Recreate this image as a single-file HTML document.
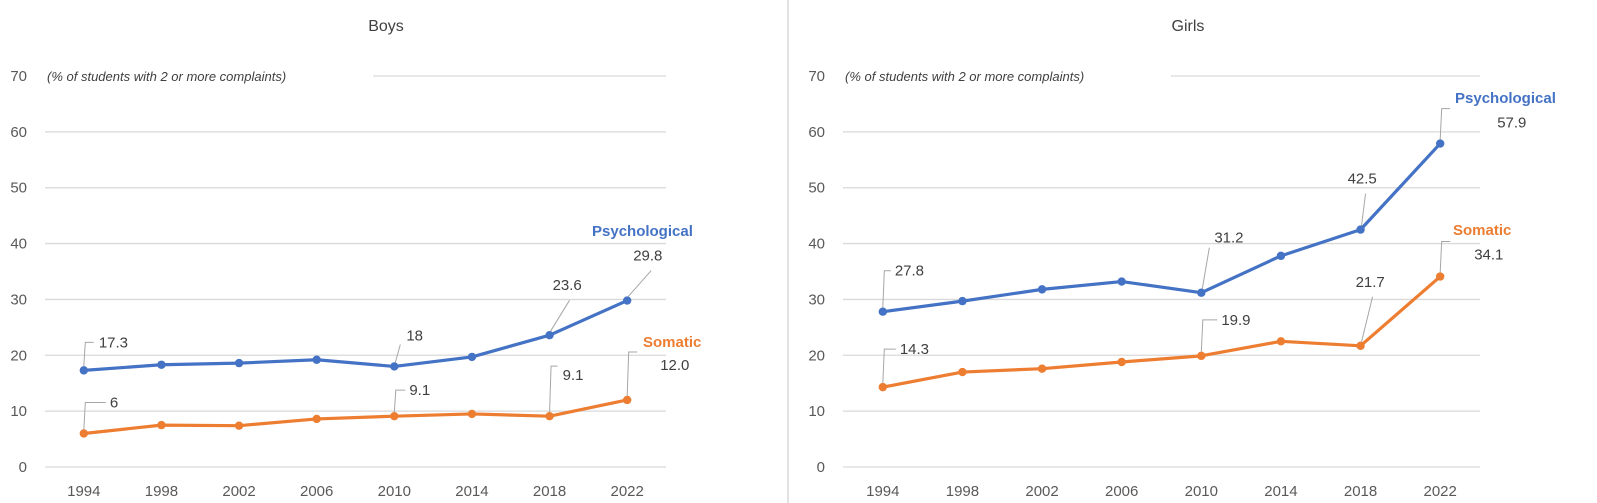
<!DOCTYPE html>
<html><head><meta charset="utf-8">
<style>
html,body{margin:0;padding:0;background:#fff;}
svg{display:block;font-family:"Liberation Sans",sans-serif;}
</style></head>
<body>
<svg id="chart" width="1597" height="503" viewBox="0 0 1597 503" xmlns="http://www.w3.org/2000/svg">
<line x1="788" y1="0" x2="788" y2="503" stroke="#d9d9d9" stroke-width="1.5"/>
</svg>
<script>
const years = ["1994","1998","2002","2006","2010","2014","2018","2022"];
const yTicks = [0,10,20,30,40,50,60,70];
const boysPsych = [17.3,18.3,18.6,19.2,18,19.7,23.6,29.8];
const boysSom = [6,7.5,7.4,8.6,9.1,9.5,9.1,12.0];
const girlsPsych = [27.8,29.7,31.8,33.2,31.2,37.8,42.5,57.9];
const girlsSom = [14.3,17.0,17.6,18.8,19.9,22.5,21.7,34.1];
const boysPsychLabels = ["17.3",null,null,null,"18",null,"23.6","29.8"];
const boysSomLabels = ["6",null,null,null,"9.1",null,"9.1","12.0"];
const girlsPsychLabels = ["27.8",null,null,null,"31.2",null,"42.5","57.9"];
const girlsSomLabels = ["14.3",null,null,null,"19.9",null,"21.7","34.1"];

const svg = document.getElementById('chart');
const NS = 'http://www.w3.org/2000/svg';
function mk(tag, attrs, parent){
  const e = document.createElementNS(NS, tag);
  for (const k in attrs) e.setAttribute(k, attrs[k]);
  (parent||svg).appendChild(e);
  return e;
}
const yScale = v => 467 - v * (391/70);

function panel(cfg){
  const g = mk('g', {});
  
  
  const step = (cfg.x1 - cfg.x0) / years.length;
  const xScale = i => cfg.x0 + step/2 + i*step;
  const t = mk('text', {x: cfg.titleX, y: 31, 'font-size': 16, fill: '#404040', 'text-anchor': 'middle'}, g);
  t.textContent = cfg.title;
  
  
  yTicks.forEach(v => {
    const y = yScale(v);
    const gl = mk('line', {x1: v===70 ? cfg.x0+328 : cfg.x0, x2: cfg.x1, y1: y, y2: y, stroke: '#d9d9d9', 'stroke-width': 1.3}, g);
    
    
    const tl = mk('text', {x: cfg.x0 - 18, y: y + 5, 'font-size': 15, fill: '#595959', 'text-anchor': 'end'}, g);
    tl.textContent = v;
    
    
  });
  const note = mk('text', {x: cfg.x0 + 2, y: 81, 'font-size': 13, 'font-style': 'italic', fill: '#404040'}, g);
  note.textContent = '(% of students with 2 or more complaints)';
  
  
  years.forEach((yr, i) => {
    const xl = mk('text', {x: xScale(i), y: 496, 'font-size': 15, fill: '#595959', 'text-anchor': 'middle'}, g);
    xl.textContent = yr;
    
    
  });
  cfg.series.forEach(s => {
    const pts = s.values.map((v,i) => xScale(i)+','+yScale(v)).join(' ');
    const pl = mk('polyline', {points: pts, fill: 'none', stroke: s.color, 'stroke-width': 3.2, 'stroke-linejoin': 'round'}, g);
    
    
    s.values.forEach((v,i) => {
      const c = mk('circle', {cx: xScale(i), cy: yScale(v), r: 4.2, fill: s.color}, g);
      
      
    });
    s.labels.forEach((lab, i) => {
      if (lab === null) return;
      const o = s.offsets[i];
      const px = xScale(i), py = yScale(s.values[i]);
      let d;
      if (o[4] === 'e') d = `M${px},${py-4} L${px+1.5},${py+o[3]} L${px+o[2]},${py+o[3]}`;
      else d = `M${px+1},${py-4} L${px+o[2]},${py+o[3]}`;
      const ld = mk('path', {d: d, fill: 'none', stroke: '#a6a6a6', 'stroke-width': 1}, g);
      
      
      const lt = mk('text', {x: px + o[0], y: py + o[1] + 5, 'font-size': 15, fill: '#404040'}, g);
      lt.textContent = lab;
      
      
    });
    const sn = mk('text', {x: s.nameX, y: s.nameY, 'font-size': 15, 'font-weight': 'bold', fill: s.color}, g);
    sn.textContent = s.name;
    
    
  });
}

panel({name:'boys-chart', title:'Boys', titleX:386, x0:45, x1:666, series:[
  {key:'psychological', name:'Psychological', color:'#4472C4', values:boysPsych, labels:boysPsychLabels, nameX:592, nameY:236,
   offsets:[[15,-28,10,-28,'e'],null,null,null,[12,-31,6,-22,'d'],null,[3,-50,20,-35,'d'],[6,-45,24,-30,'d']]},
  {key:'somatic', name:'Somatic', color:'#ED7D31', values:boysSom, labels:boysSomLabels, nameX:643, nameY:347,
   offsets:[[26,-31,22,-31,'e'],null,null,null,[15,-26,11,-26,'e'],null,[13,-41,8,-50,'e'],[33,-35,10,-48,'e']]}
]});
panel({name:'girls-chart', title:'Girls', titleX:1188, x0:843, x1:1480, series:[
  {key:'psychological', name:'Psychological', color:'#4472C4', values:girlsPsych, labels:girlsPsychLabels, nameX:1455, nameY:103,
   offsets:[[12,-41,8,-41,'e'],null,null,null,[13,-55,8,-45,'d'],null,[-13,-51,5,-36,'d'],[57,-21,10,-35,'e']]},
  {key:'somatic', name:'Somatic', color:'#ED7D31', values:girlsSom, labels:girlsSomLabels, nameX:1453, nameY:235,
   offsets:[[17,-38,13,-38,'e'],null,null,null,[20,-36,16,-36,'e'],null,[-5,-64,12,-49,'d'],[34,-22,10,-35,'e']]}
]});
</script>
</body></html>
